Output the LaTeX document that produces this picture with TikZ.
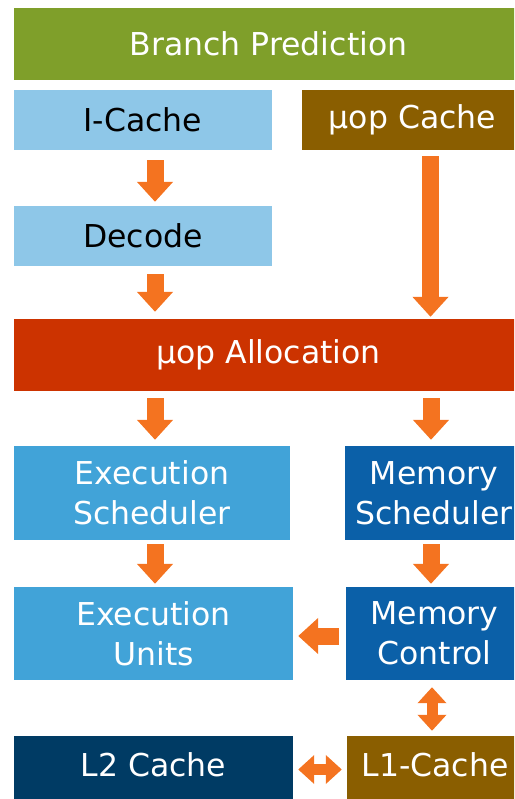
\documentclass[tikz,border=0pt]{standalone}
\usepackage{fontspec}
\setmainfont{DejaVu Sans}
\usetikzlibrary{arrows.meta}

\definecolor{bpgreen}{HTML}{7F9F2A}
\definecolor{icblue}{HTML}{8EC7E8}
\definecolor{ucbrown}{HTML}{8A5E00}
\definecolor{allocred}{HTML}{CC3300}
\definecolor{exblue}{HTML}{41A3D8}
\definecolor{memblue}{HTML}{0B60A8}
\definecolor{ltwonavy}{HTML}{003B64}
\definecolor{arroworange}{HTML}{F47320}

\tikzset{
	box/.style = {rectangle, inner sep = 0pt, text = white, align = center,
		font = \fontsize{31.5}{40}\selectfont},
	fatarrow/.style = {draw = arroworange, line width = 17pt,
		-{Triangle[width = 35pt, length = 20pt]}},
	twoway/.style = {draw = arroworange, line width = 11pt,
		{Triangle[width = 28pt, length = 16pt]}-{Triangle[width = 28pt, length = 16pt]}}
}

\begin{document}
\begin{tikzpicture}[x = 1pt, y = -1pt]
				%	frame
				\useasboundingbox (0, 0) rectangle (514, 799);
				\clip (0, 0) rectangle (514, 799);
				
				%	front end
				\node[box, fill = bpgreen, minimum width = 509pt, minimum height = 72pt] (bp) at (268.5, 44) {Branch Prediction};
				\node[box, fill = icblue, text = black, minimum width = 258pt, minimum height = 60pt] (icache) at (143, 120) {I-Cache};
				\node[box, fill = ucbrown, minimum width = 221pt, minimum height = 60pt] (ucache) at (412.5, 120) {µop Cache};
				\node[box, fill = icblue, text = black, minimum width = 258pt, minimum height = 60pt] (decode) at (143, 236) {Decode};
				\node[box, fill = allocred, minimum width = 509pt, minimum height = 72pt] (alloc) at (268.5, 355) {µop Allocation};
				
				%	back end
				\node[box, fill = exblue, minimum width = 276pt, minimum height = 94pt] (esched) at (152, 493) {Execution\\Scheduler};
				\node[box, fill = memblue, minimum width = 178pt, minimum height = 94pt] (msched) at (434, 493) {Memory\\Scheduler};
				\node[box, fill = exblue, minimum width = 279pt, minimum height = 93pt] (eunits) at (153.5, 633.5) {Execution\\Units};
				\node[box, fill = memblue, minimum width = 177pt, minimum height = 93pt] (mctrl) at (434.5, 633.5) {Memory\\Control};
				\node[box, fill = ltwonavy, text depth = 5pt, minimum width = 279pt, minimum height = 63pt] (ltwo) at (153.5, 767.5) {L2 Cache};
				\node[box, fill = ucbrown, text depth = 5pt, minimum width = 176pt, minimum height = 63pt] (lone) at (435, 767.5) {L1-Cache};
				
				%	arrows
				\draw[fatarrow, shorten <= 10pt, shorten >= 4pt] ([xshift = 12pt]icache.south) -- ([xshift = 12pt]decode.north);
				\draw[fatarrow, shorten <= 8pt, shorten >= 7pt] ([xshift = 12pt]decode.south) -- ([xshift = 12pt]decode.south |- alloc.north);
				\draw[fatarrow, shorten <= 6pt, shorten >= 2pt] ([xshift = 18pt]ucache.south) -- ([xshift = 18pt]ucache.south |- alloc.north);
				\draw[fatarrow, shorten <= 7pt, shorten >= 6pt] ([xshift = 3pt]esched.north |- alloc.south) -- ([xshift = 3pt]esched.north);
				\draw[fatarrow, shorten <= 7pt, shorten >= 6pt] ([xshift = -3pt]msched.north |- alloc.south) -- ([xshift = -3pt]msched.north);
				\draw[fatarrow, shorten <= 4pt, shorten >= 3pt] ([xshift = 3pt]esched.south) -- ([xshift = 3pt]esched.south |- eunits.north);
				\draw[fatarrow, shorten <= 4pt, shorten >= 3pt] ([xshift = -3pt]msched.south) -- ([xshift = -3pt]msched.south |- mctrl.north);
				\draw[fatarrow, shorten <= 7pt, shorten >= 5pt] ([yshift = -2.5pt]mctrl.west) -- ([yshift = -2.5pt]mctrl.west -| eunits.east);
				\draw[twoway, shorten <= 7pt, shorten >= 5pt] ([xshift = -2.5pt]mctrl.south) -- ([xshift = -2.5pt]mctrl.south |- lone.north);
				\draw[twoway, shorten <= 5pt, shorten >= 5pt] ([yshift = -2pt]lone.west) -- ([yshift = -2pt]lone.west -| ltwo.east);
\end{tikzpicture}
\end{document}
